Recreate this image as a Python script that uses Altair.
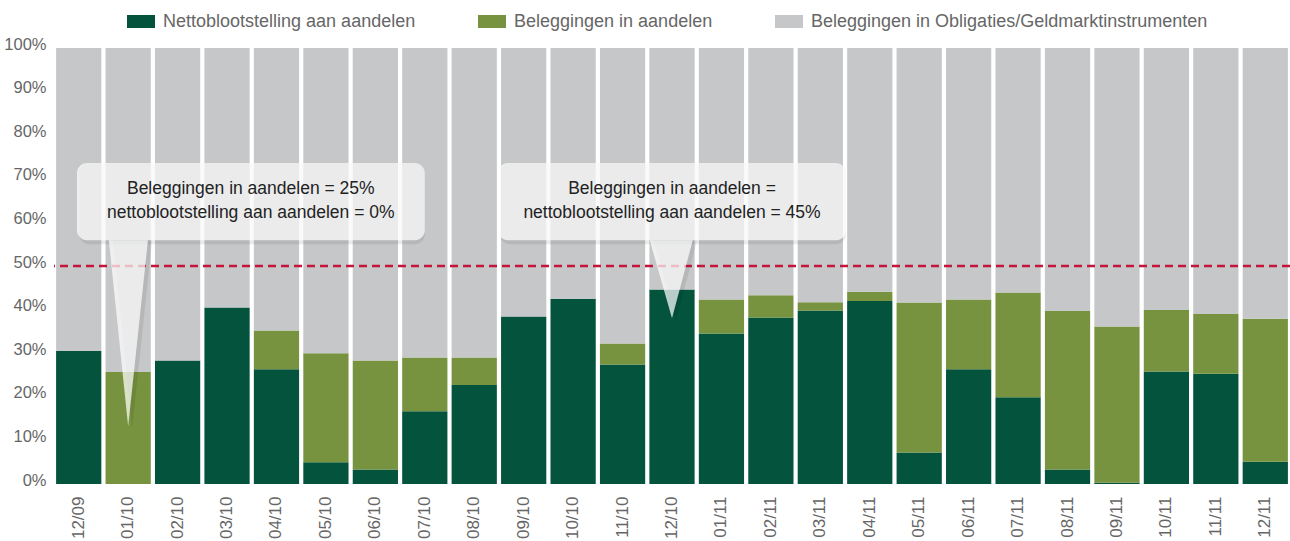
import altair as alt
import pandas as pd

# ---- data ----
categories = ["12/09", "01/10", "02/10", "03/10", "04/10", "05/10", "06/10", "07/10",
              "08/10", "09/10", "10/10", "11/10", "12/10", "01/11", "02/11", "03/11",
              "04/11", "05/11", "06/11", "07/11", "08/11", "09/11", "10/11", "11/11", "12/11"]
# net exposure to equities (dark green), %
netto = [30.5, 0.0, 28.3, 40.5, 26.3, 5.0, 3.3, 16.7, 22.7, 38.4, 42.5, 27.4, 44.6,
         34.5, 38.2, 39.8, 42.0, 7.2, 26.3, 19.9, 3.3, 0.3, 25.8, 25.3, 5.1]
# total investments in equities (top of olive segment), %
aandelen = [30.5, 25.7, 28.3, 40.5, 35.2, 30.0, 28.3, 29.0, 29.0, 38.4, 42.5, 32.2, 44.6,
            42.3, 43.3, 41.7, 44.1, 41.6, 42.3, 43.9, 39.7, 36.1, 39.9, 39.0, 37.9]
series_names = ["Nettoblootstelling aan aandelen", "Beleggingen in aandelen",
                "Beleggingen in Obligaties/Geldmarktinstrumenten"]
series_colors = ["#03533d", "#77933f", "#c6c7c9"]
threshold = [50]
y_ticks = [0, 10, 20, 30, 40, 50, 60, 70, 80, 90, 100]

# callouts (x in category units: category i spans [i, i+1]; y in %)
box_x0 = [0.465, 8.98]
box_x1 = [7.5, 16.02]
box_y0 = [55.9, 55.9]
box_y1 = [73.6, 73.6]
text_x = [3.98, 12.5]
text_line1 = ["Beleggingen in aandelen = 25%", "Beleggingen in aandelen ="]
text_line2 = ["nettoblootstelling aan aandelen = 0%", "nettoblootstelling aan aandelen = 45%"]
line1_y = [67.7, 67.7]
line2_y = [62.2, 62.2]
ptr_left = [1.11, 12.05]
ptr_tip = [1.5, 12.5]
ptr_right = [1.9, 12.92]
ptr_tip_y = [13.2, 38.0]

FONT = "Liberation Sans"

rows = []
for c, n, a in zip(categories, netto, aandelen):
    rows.append({"cat": c, "series": series_names[0], "y0": 0, "y1": n})
    rows.append({"cat": c, "series": series_names[1], "y0": n, "y1": a})
    rows.append({"cat": c, "series": series_names[2], "y0": a, "y1": 100})
df = pd.DataFrame(rows)

yscale = alt.Scale(domain=[0, 100], nice=False, zero=True)
qx = alt.Scale(domain=[0, len(categories)], nice=False, zero=False)

bars = alt.Chart(df).mark_bar().encode(
    x=alt.X("cat:N", sort=categories,
            scale=alt.Scale(paddingInner=0.085, paddingOuter=0.0425),
            axis=alt.Axis(title=None, labelAngle=-90, domain=False, ticks=False,
                          labelPadding=12, labelFontSize=17, labelColor="#666666",
                          labelFont=FONT)),
    y=alt.Y("y0:Q", scale=yscale,
            axis=alt.Axis(title=None, values=y_ticks, labelExpr="datum.value + '%'",
                          domain=False, ticks=False, grid=False, labelPadding=8,
                          labelOffset=-4, labelFontSize=16.5, labelColor="#666666",
                          labelFont=FONT)),
    y2="y1:Q",
    color=alt.Color("series:N",
                    scale=alt.Scale(domain=series_names, range=series_colors),
                    legend=alt.Legend(title=None, orient="none", legendX=73, legendY=-40.5,
                                      direction="horizontal", columns=3,
                                      symbolType="M-1,-0.464H1V0.464H-1Z", symbolSize=784,
                                      symbolStrokeWidth=0, symbolOpacity=1,
                                      labelFontSize=18, labelColor="#666666", labelFont=FONT,
                                      labelOffset=8, labelLimit=600, columnPadding=62,
                                      padding=0)),
)

rule = alt.Chart(pd.DataFrame({"v": threshold})).mark_rule(
    color="#c4163a", strokeDash=[8, 5], strokeWidth=2.5
).encode(y=alt.Y("v:Q", scale=yscale))

box_df = pd.DataFrame({"x0": box_x0, "x1": box_x1, "y0": box_y0, "y1": box_y1})
box_shadow = alt.Chart(box_df).mark_rect(
    color="black", opacity=0.08, cornerRadius=10, xOffset=2, yOffset=4
).encode(x=alt.X("x0:Q", scale=qx, axis=None), x2="x1:Q",
         y=alt.Y("y0:Q", scale=yscale), y2="y1:Q")
boxes = alt.Chart(box_df).mark_rect(
    color="white", opacity=0.72, cornerRadius=10
).encode(x=alt.X("x0:Q", scale=qx, axis=None), x2="x1:Q",
         y=alt.Y("y0:Q", scale=yscale), y2="y1:Q")

ptr_rows = []
for i in range(len(ptr_tip)):
    base = box_y0[i]
    ptr_rows.append({"id": i, "x": ptr_left[i], "y": base, "y2": base})
    ptr_rows.append({"id": i, "x": ptr_tip[i], "y": ptr_tip_y[i], "y2": base})
    ptr_rows.append({"id": i, "x": ptr_right[i], "y": base, "y2": base})
ptr_df = pd.DataFrame(ptr_rows)

ptr_shadow = alt.Chart(ptr_df).mark_area(
    color="black", opacity=0.08, xOffset=4, yOffset=2
).encode(x=alt.X("x:Q", scale=qx, axis=None), y=alt.Y("y:Q", scale=yscale),
         y2="y2:Q", detail="id:N")
pointers = alt.Chart(ptr_df).mark_area(color="white", opacity=0.72).encode(
    x=alt.X("x:Q", scale=qx, axis=None), y=alt.Y("y:Q", scale=yscale),
    y2="y2:Q", detail="id:N")

txt_rows = []
for i in range(len(text_x)):
    txt_rows.append({"x": text_x[i], "y": line1_y[i], "t": text_line1[i]})
    txt_rows.append({"x": text_x[i], "y": line2_y[i], "t": text_line2[i]})
txt_df = pd.DataFrame(txt_rows)
texts = alt.Chart(txt_df).mark_text(
    font=FONT, fontSize=17.5, color="#222222", align="center", baseline="middle"
).encode(x=alt.X("x:Q", scale=qx, axis=None), y=alt.Y("y:Q", scale=yscale), text="t:N")

chart = alt.layer(bars, rule, box_shadow, ptr_shadow, boxes, pointers, texts).resolve_scale(
    x="independent"
).properties(
    width=1236, height=436,
    padding={"left": 54, "top": 48, "right": 0, "bottom": 57},
    autosize=alt.AutoSizeParams(type="none"),
    background="white",
).configure_view(stroke=None)

chart.save("out.html", embed_options={"renderer": "svg", "actions": False})
